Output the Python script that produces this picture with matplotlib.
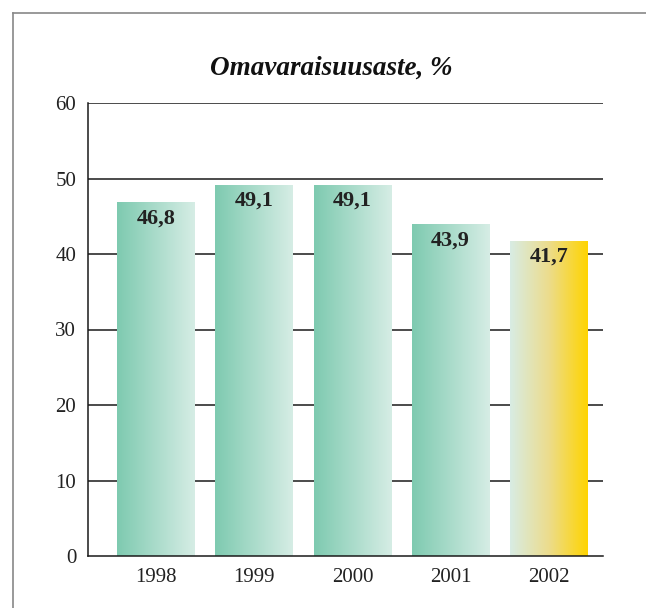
import numpy as np
import matplotlib
matplotlib.use("Agg")
import matplotlib.pyplot as plt
from matplotlib.colors import LinearSegmentedColormap
from matplotlib.lines import Line2D

years = ["1998", "1999", "2000", "2001", "2002"]
values = [46.8, 49.1, 49.1, 43.9, 41.7]
labels = ["46,8", "49,1", "49,1", "43,9", "41,7"]
yticks = [0, 10, 20, 30, 40, 50, 60]

green = LinearSegmentedColormap.from_list("g", ["#7ecab0", "#d6ede5"])
yellow = LinearSegmentedColormap.from_list("y", ["#d8ece4", "#ecdc8c", "#ffd400"])

plt.rcParams['font.family'] = ['Liberation Serif', 'DejaVu Serif']

fig = plt.figure(figsize=(6.46, 6.08), dpi=100)
ax = fig.add_axes([88 / 646, 1 - 556 / 608, 515 / 646, 453 / 608])

# grey frame (left and top only)
fig.add_artist(Line2D([13 / 646, 13 / 646], [0, 1 - 13 / 608], color="#888888", lw=1.2))
fig.add_artist(Line2D([13 / 646, 1], [1 - 13 / 608, 1 - 13 / 608], color="#888888", lw=1.2))

x = np.arange(len(years))
bars = ax.bar(x, values, width=0.79, color="none", zorder=2)

grad = np.linspace(0, 1, 256).reshape(1, -1)
for i, b in enumerate(bars):
    x0, w, h = b.get_x(), b.get_width(), b.get_height()
    cmap = yellow if i == len(bars) - 1 else green
    ax.imshow(grad, cmap=cmap, extent=[x0, x0 + w, 0, h], aspect="auto", zorder=2)
    ax.annotate(labels[i], (x0 + w / 2, h), xytext=(0, -4), textcoords="offset points",
                ha="center", va="top", fontsize=16, fontweight="bold", color="#222222", zorder=3)

for t in yticks[1:]:
    ax.axhline(t, color="#1a1a1a", lw=1.1, zorder=1)

ax.set_xlim(-0.69, 4.55)
ax.set_ylim(0, 60)
ax.set_yticks(yticks)
ax.set_xticks(x)
ax.set_xticklabels(years)
ax.tick_params(length=0, labelsize=15, colors="#222222")
ax.tick_params(axis="x", pad=9)
ax.tick_params(axis="y", pad=8.5)
for s in ["top", "right"]:
    ax.spines[s].set_visible(False)
for s in ["left", "bottom"]:
    ax.spines[s].set_color("#1a1a1a")
    ax.spines[s].set_linewidth(1.1)

fig.text(331 / 646, 1 - 68 / 608, "Omavaraisuusaste, %", ha="center", va="center",
         fontsize=19.5, fontweight="bold", style="italic", color="#111111")

fig.savefig("out.png", dpi=100)
